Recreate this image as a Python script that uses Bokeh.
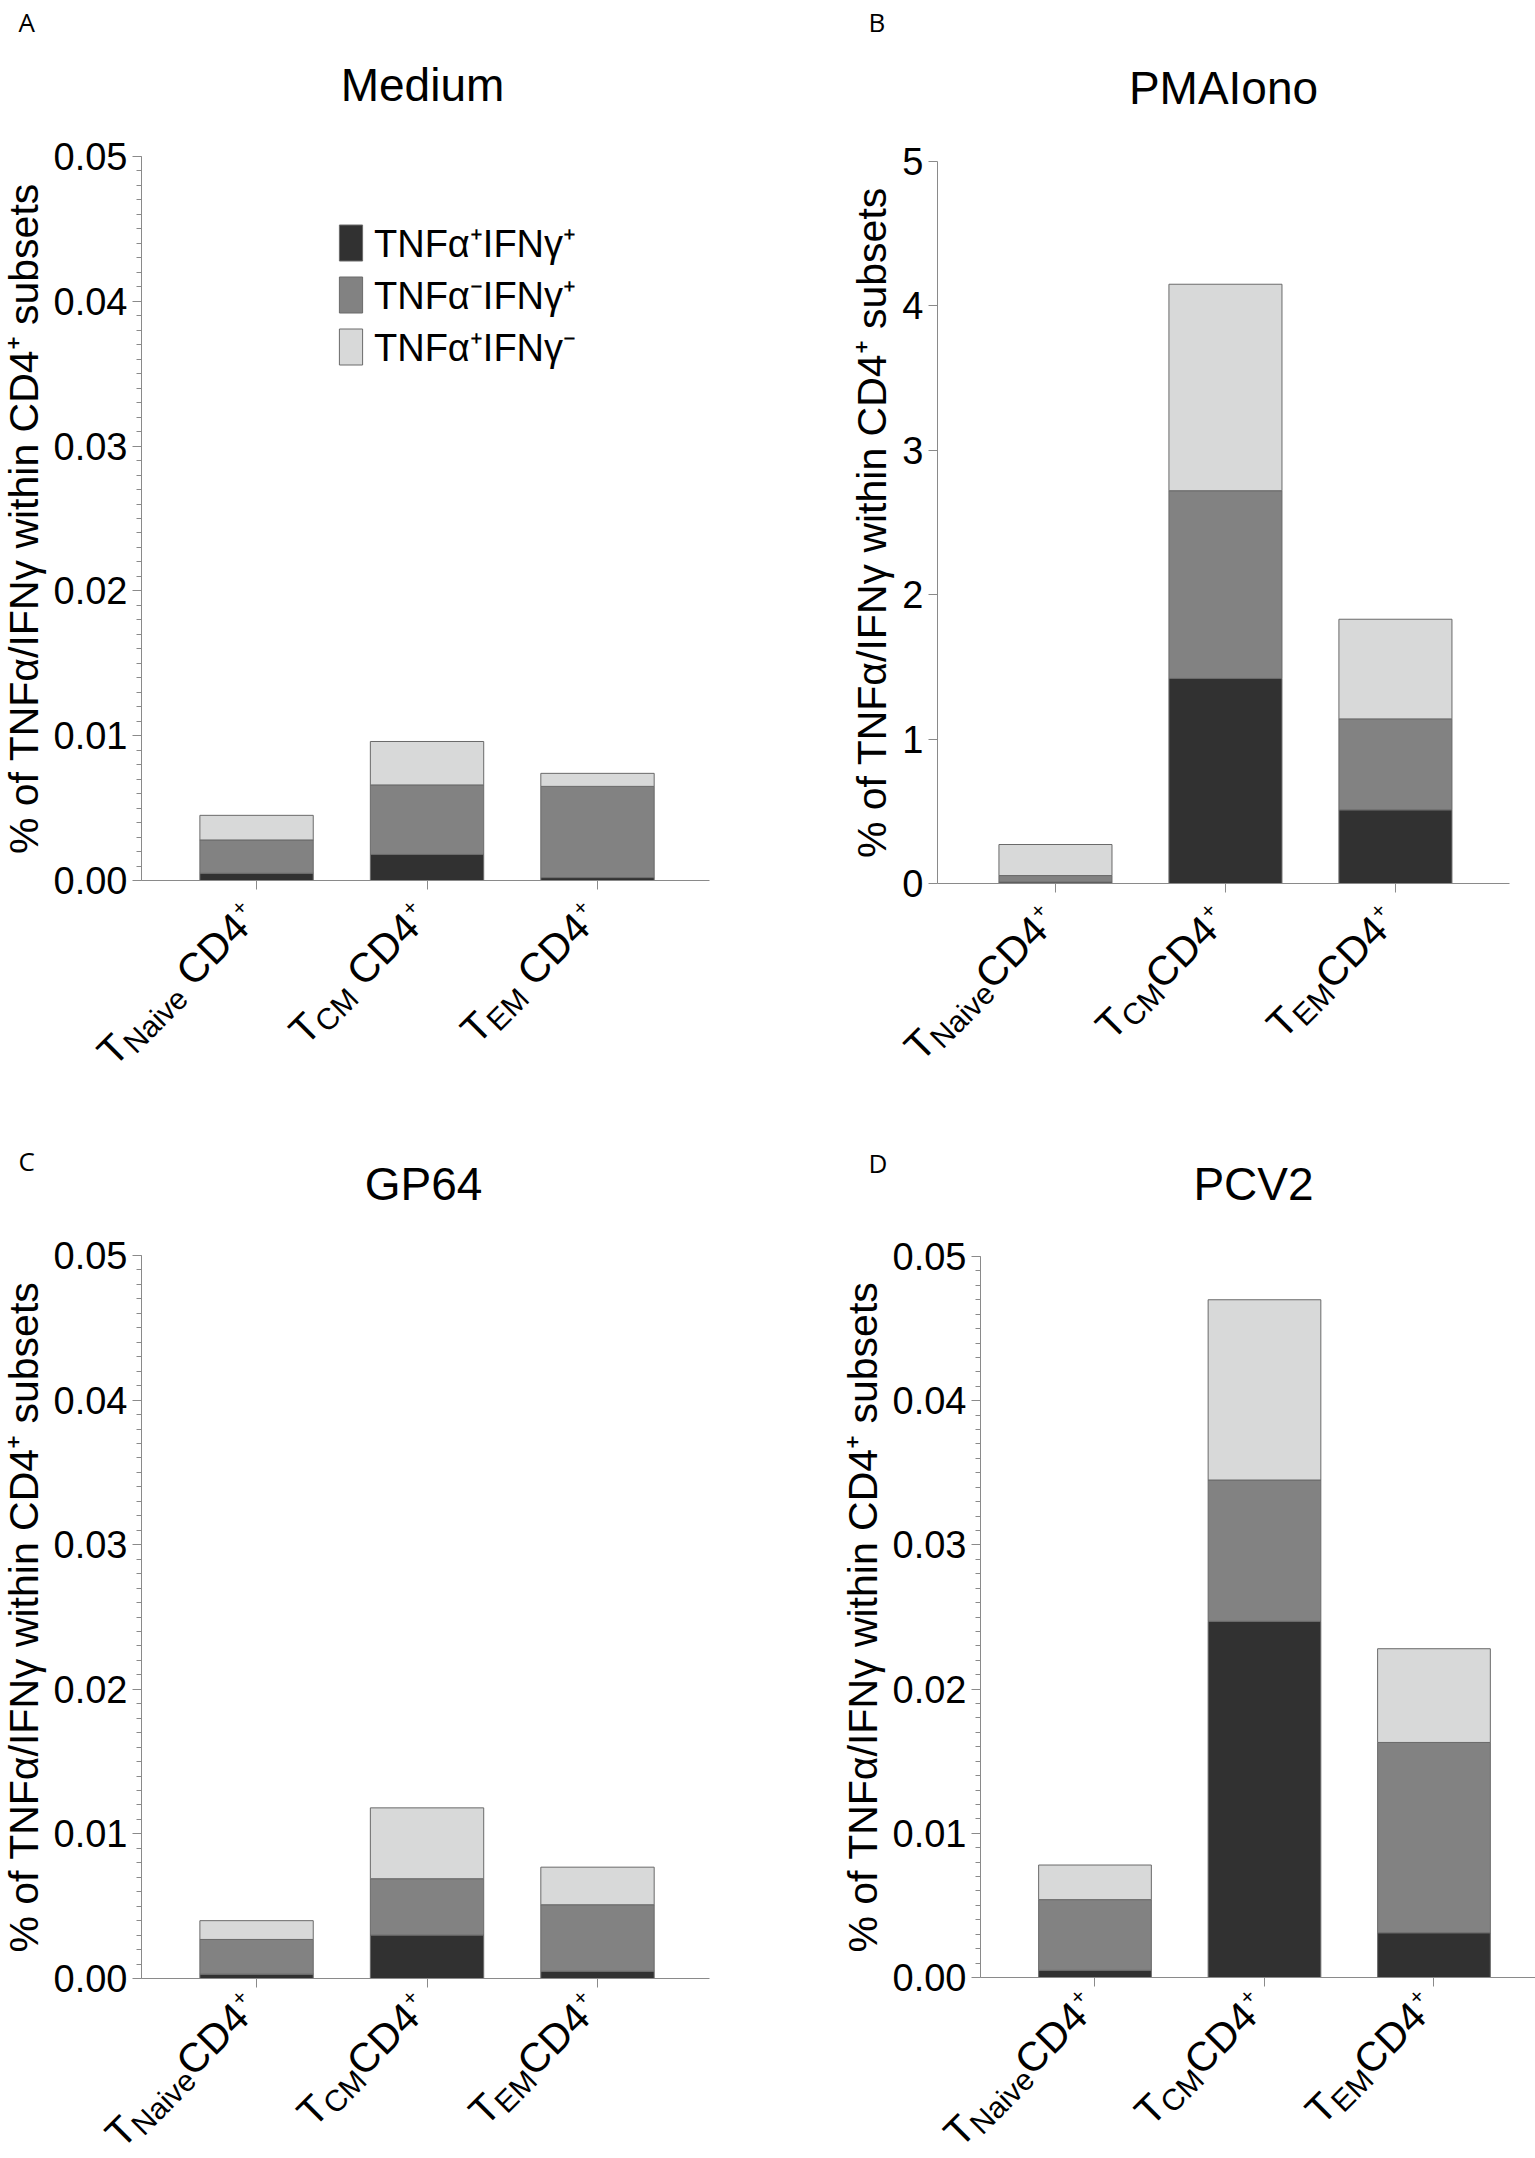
import math
from bokeh.plotting import figure
from bokeh.models import (Range1d, FixedTicker, PrintfTickFormatter, Legend,
                          LegendItem, Label, ColumnDataSource)
from bokeh.layouts import column, row
from bokeh.embed import file_html
from bokeh.resources import INLINE

# ---------------- data ----------------
subsets = ["Naive", "CM", "EM"]
positions = [1, 2, 3]
series_labels = ["TNFα⁺IFNγ⁺", "TNFα⁻IFNγ⁺", "TNFα⁺IFNγ⁻"]

medium_dp = [0.0005, 0.0018, 0.0002]   # TNFa+ IFNg+
medium_sp = [0.0023, 0.0048, 0.0063]   # TNFa- IFNg+
medium_tp = [0.0017, 0.0030, 0.0009]   # TNFa+ IFNg-

pma_dp = [0.01, 1.42, 0.51]
pma_sp = [0.045, 1.30, 0.63]
pma_tp = [0.215, 1.43, 0.69]

gp64_dp = [0.0003, 0.0030, 0.0005]
gp64_sp = [0.0024, 0.0039, 0.0046]
gp64_tp = [0.0013, 0.0049, 0.0026]

pcv2_dp = [0.0005, 0.0247, 0.0031]
pcv2_sp = [0.0049, 0.0098, 0.0132]
pcv2_tp = [0.0024, 0.0125, 0.0065]

small_ticks = [0, 0.01, 0.02, 0.03, 0.04, 0.05]
small_minor = [i / 1000 for i in range(0, 51)]
pma_ticks = [0, 1, 2, 3, 4, 5]

# ---------------- style ----------------
FONT = "Liberation Sans"
LETTER_FONT = "Open Sans"
COLORS = ["#313131", "#828282", "#d8d9d9"]
BAR_LINE = "#6a6a6a"
AXIS_COL = "#8a8a8a"
YLABEL = "% of TNFα/IFNγ within CD4⁺ subsets"
MID = 0.35   # distance (em) from alphabetic baseline up to the "middle" anchor

# Arial/Liberation advance widths (per em)
ADV = {'T': .611, 'N': .722, 'a': .556, 'i': .222, 'v': .5, 'e': .556,
       'C': .722, 'M': .833, 'E': .667, 'D': .722, '4': .556, '+': .584, ' ': .278}


def tw(s, size):
    return sum(ADV[ch] for ch in s) * size


def add_xlabels(p, spaced, xpx, ypx, ey):
    FT, FC, FS, FP = 40, 41, 30, 22   # T, CD4, subscript, superscript sizes
    th = math.radians(45)
    c, s = math.cos(th), math.sin(th)
    u = (c, -s)      # along baseline (screen px, y down)
    v = (-s, -c)     # text "up" direction
    E = (-5.0, ey)   # baseline end of "CD4" relative to the tick
    for pos, sub in zip(positions, subsets):
        pieces = []
        sp = (E[0] + 1 * u[0] + 0.42 * FC * v[0], E[1] + 1 * u[1] + 0.42 * FC * v[1])
        pieces.append(("+", FP, sp))
        wc = tw("CD4", FC)
        cs = (E[0] - wc * u[0], E[1] - wc * u[1])
        pieces.append(("CD4", FC, cs))
        gap = tw(" ", FC) if spaced else 0.0
        ws = tw(sub, FS)
        se = (cs[0] - gap * u[0], cs[1] - gap * u[1])
        ss = (se[0] - ws * u[0] - 0.15 * FC * v[0], se[1] - ws * u[1] - 0.15 * FC * v[1])
        pieces.append((sub, FS, ss))
        wt = tw("T", FT)
        ts = (se[0] - (ws + wt) * u[0], se[1] - (ws + wt) * u[1])
        pieces.append(("T", FT, ts))
        for txt, fs, (bx, by) in pieces:
            dx = bx + MID * fs * v[0]
            dy = by + MID * fs * v[1]
            p.add_layout(Label(x=pos + dx / xpx, y=-dy / ypx, text=txt,
                               angle=45, angle_units="deg", text_align="left",
                               text_baseline="middle", text_font=FONT,
                               text_font_size=f"{fs}px", text_color="black"))


def make_panel(title, letter, dp, sp, tp, ymax, ticks, minor, fmt,
               canvas, frame, x0, x1, title_xy, letter_xy, ey=50.0,
               spaced=False, legend=False):
    cl, ct, cr, cb = canvas
    fl, ft, fr, fb = frame
    xpx = (fr - fl) / (x1 - x0)
    ypx = (fb - ft) / ymax
    xs = x0 - (fl - cl) / xpx
    xe = x1 + (cr - fr) / xpx
    ys = -(cb - fb) / ypx
    ye = ymax + (ft - ct) / ypx
    W, H = cr - cl, cb - ct

    p = figure(width=W, height=H, x_range=Range1d(xs, xe), y_range=Range1d(ys, ye),
               output_backend="svg", toolbar_location=None, min_border=0)
    p.outline_line_color = None
    p.xgrid.visible = False
    p.ygrid.visible = False

    src = ColumnDataSource(dict(x=positions, dp=dp, sp=sp, tp=tp))
    rends = p.vbar_stack(["dp", "sp", "tp"], x="x", width=0.665, source=src,
                         fill_color=COLORS, line_color=BAR_LINE, line_width=1)

    ya = p.yaxis[0]
    ya.fixed_location = x0
    ya.bounds = (0, ymax)
    ya.ticker = FixedTicker(ticks=ticks, minor_ticks=minor)
    ya.formatter = PrintfTickFormatter(format=fmt)
    ya.axis_label = YLABEL
    ya.axis_label_text_font = FONT
    ya.axis_label_text_font_size = "41px"
    ya.axis_label_text_font_style = "normal"
    ya.axis_label_text_color = "black"
    ya.axis_label_standoff = 4
    ya.major_label_text_font = FONT
    ya.major_label_text_font_size = "38px"
    ya.major_label_text_color = "black"
    ya.major_label_standoff = 5
    ya.major_tick_out = 9
    ya.major_tick_in = 0
    ya.minor_tick_out = 5
    ya.minor_tick_in = 0
    ya.axis_line_color = AXIS_COL
    ya.major_tick_line_color = AXIS_COL
    ya.minor_tick_line_color = AXIS_COL

    xa = p.xaxis[0]
    xa.fixed_location = 0
    xa.bounds = (x0, x1)
    xa.ticker = FixedTicker(ticks=positions)
    xa.major_label_text_font_size = "0px"
    xa.major_label_text_color = None
    xa.major_tick_out = 9
    xa.major_tick_in = 0
    xa.minor_tick_line_color = None
    xa.axis_line_color = AXIS_COL
    xa.major_tick_line_color = AXIS_COL

    add_xlabels(p, spaced, xpx, ypx, ey)

    tx, ty = title_xy
    p.add_layout(Label(x=tx - cl, y=cb - ty + MID * 46, x_units="screen", y_units="screen",
                       text=title, text_font=FONT, text_font_size="46px", text_color="black",
                       text_align="center", text_baseline="middle"))
    lx, ly = letter_xy
    p.add_layout(Label(x=lx - cl, y=cb - ly + MID * 26, x_units="screen", y_units="screen",
                       text=letter, text_font=LETTER_FONT, text_font_size="26px",
                       text_color="black", text_align="left", text_baseline="middle"))

    if legend:
        items = [LegendItem(label=lab, renderers=[r]) for lab, r in zip(series_labels, rends)]
        lg = Legend(items=items, location=(336 - cl, cb - 372), orientation="vertical",
                    glyph_width=29, glyph_height=45, label_text_font=FONT,
                    label_text_font_size="38px", label_text_color="black",
                    label_standoff=9, spacing=0,
                    padding=0, margin=0, border_line_color=None,
                    background_fill_alpha=0, label_height=45)
        p.add_layout(lg)
    return p


pA = make_panel("Medium", "A", medium_dp, medium_sp, medium_tp, 0.05, small_ticks, small_minor, "%.2f",
                canvas=(0, 0, 767, 1100), frame=(141, 156, 709, 880), x0=0.325, x1=3.657,
                title_xy=(422, 101), letter_xy=(18, 31), spaced=True, legend=True)
pB = make_panel("PMAIono", "B", pma_dp, pma_sp, pma_tp, 5, pma_ticks, [], "%d",
                canvas=(767, 0, 1535, 1100), frame=(937, 161, 1509, 883), x0=0.306, x1=3.671,
                title_xy=(1223, 104), letter_xy=(868, 31))
pC = make_panel("GP64", "C", gp64_dp, gp64_sp, gp64_tp, 0.05, small_ticks, small_minor, "%.2f",
                canvas=(0, 1100, 767, 2158), frame=(141, 1255, 709, 1978), x0=0.325, x1=3.657,
                title_xy=(423, 1200), letter_xy=(18, 1170), ey=42.0)
pD = make_panel("PCV2", "D", pcv2_dp, pcv2_sp, pcv2_tp, 0.05, small_ticks, small_minor, "%.2f",
                canvas=(767, 1100, 1535, 2158), frame=(980, 1256, 1535, 1977), x0=0.3245, x1=3.599,
                title_xy=(1253, 1200), letter_xy=(868, 1172), ey=42.0)

layout = column(row(pA, pB), row(pC, pD))
open("out.html", "w").write(file_html(layout, INLINE))
